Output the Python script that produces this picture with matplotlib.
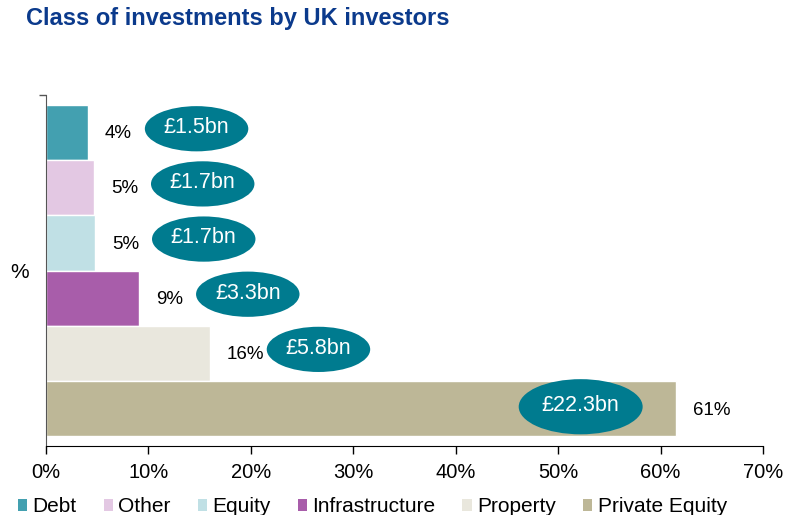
import matplotlib
matplotlib.use("Agg")
import matplotlib.pyplot as plt
from matplotlib.patches import Ellipse, Patch

categories = ["Debt", "Other", "Equity", "Infrastructure", "Property", "Private Equity"]
shares = [4.1, 4.7, 4.8, 9.1, 16.0, 61.5]
pct_labels = ["4%", "5%", "5%", "9%", "16%", "61%"]
amount_labels = ["£1.5bn", "£1.7bn", "£1.7bn", "£3.3bn", "£5.8bn", "£22.3bn"]
xticks = [0, 10, 20, 30, 40, 50, 60, 70]
xtick_labels = ["0%", "10%", "20%", "30%", "40%", "50%", "60%", "70%"]

colors = ["#43A0B0", "#E3C8E3", "#C0E0E5", "#A85DAA", "#E9E7DD", "#BDB797"]
ellipse_color = "#007B8F"

plt.rcParams["font.family"] = ["Liberation Sans", "DejaVu Sans"]

fig = plt.figure(figsize=(7.87, 5.15), dpi=100)
ax = fig.add_axes([46/787, 1-446/515, (763-46)/787, (446-95)/515])

pos = list(range(len(categories)))
ax.barh(pos, shares, height=1.0, color=colors, edgecolor="white", linewidth=1)
m = 10/55
ax.set_ylim(5.5 + m, -0.5 - m)
ax.set_xlim(0, 70)

for i, (v, pl, al) in enumerate(zip(shares, pct_labels, amount_labels)):
    inside = v > 40
    if inside:
        ex, ey, ew, eh = v - 9.3, i - 0.03, 12.1, 1.0
        ty = i + 0.03
    else:
        ex, ey, ew, eh = v + 10.6, i - 0.07, 10.1, 0.82
        ty = i + 0.02
    ax.annotate(pl, (v, ty), xytext=(12, 0), textcoords="offset points",
                ha="left", va="center", fontsize=13.5, color="black")
    ax.add_patch(Ellipse((ex, ey), ew, eh, facecolor=ellipse_color, edgecolor="none", zorder=3))
    ax.text(ex, ey - 0.02, al, ha="center", va="center", fontsize=15.5, color="white", zorder=4)

ax.set_xticks(xticks)
ax.set_xticklabels(xtick_labels, fontsize=14.5)
ax.tick_params(axis="x", direction="out", length=6, width=1, color="black", pad=6)
ax.set_yticks([-0.5 - m])
ax.set_yticklabels([""])
ax.tick_params(axis="y", direction="out", length=5, width=1, color="#555555")

for s in ["top", "right"]:
    ax.spines[s].set_visible(False)
ax.spines["left"].set_color("#555555")
ax.spines["bottom"].set_color("black")

fig.text(10/787, 1-272/515, "%", fontsize=15, ha="left", va="center")
fig.text(26/787, 1-18/515, "Class of investments by UK investors", fontsize=17,
         fontweight="bold", color="#0B3A8C", ha="left", va="center")

handles = [Patch(facecolor=c, edgecolor="none") for c in colors]
fig.legend(handles, categories, loc="center", bbox_to_anchor=(0.473, 1-507/515), ncol=6,
           frameon=False, fontsize=15, handlelength=0.45, handleheight=0.45,
           handletextpad=0.25, columnspacing=1.3, borderaxespad=0, borderpad=0)

fig.savefig("out.png", dpi=100)
